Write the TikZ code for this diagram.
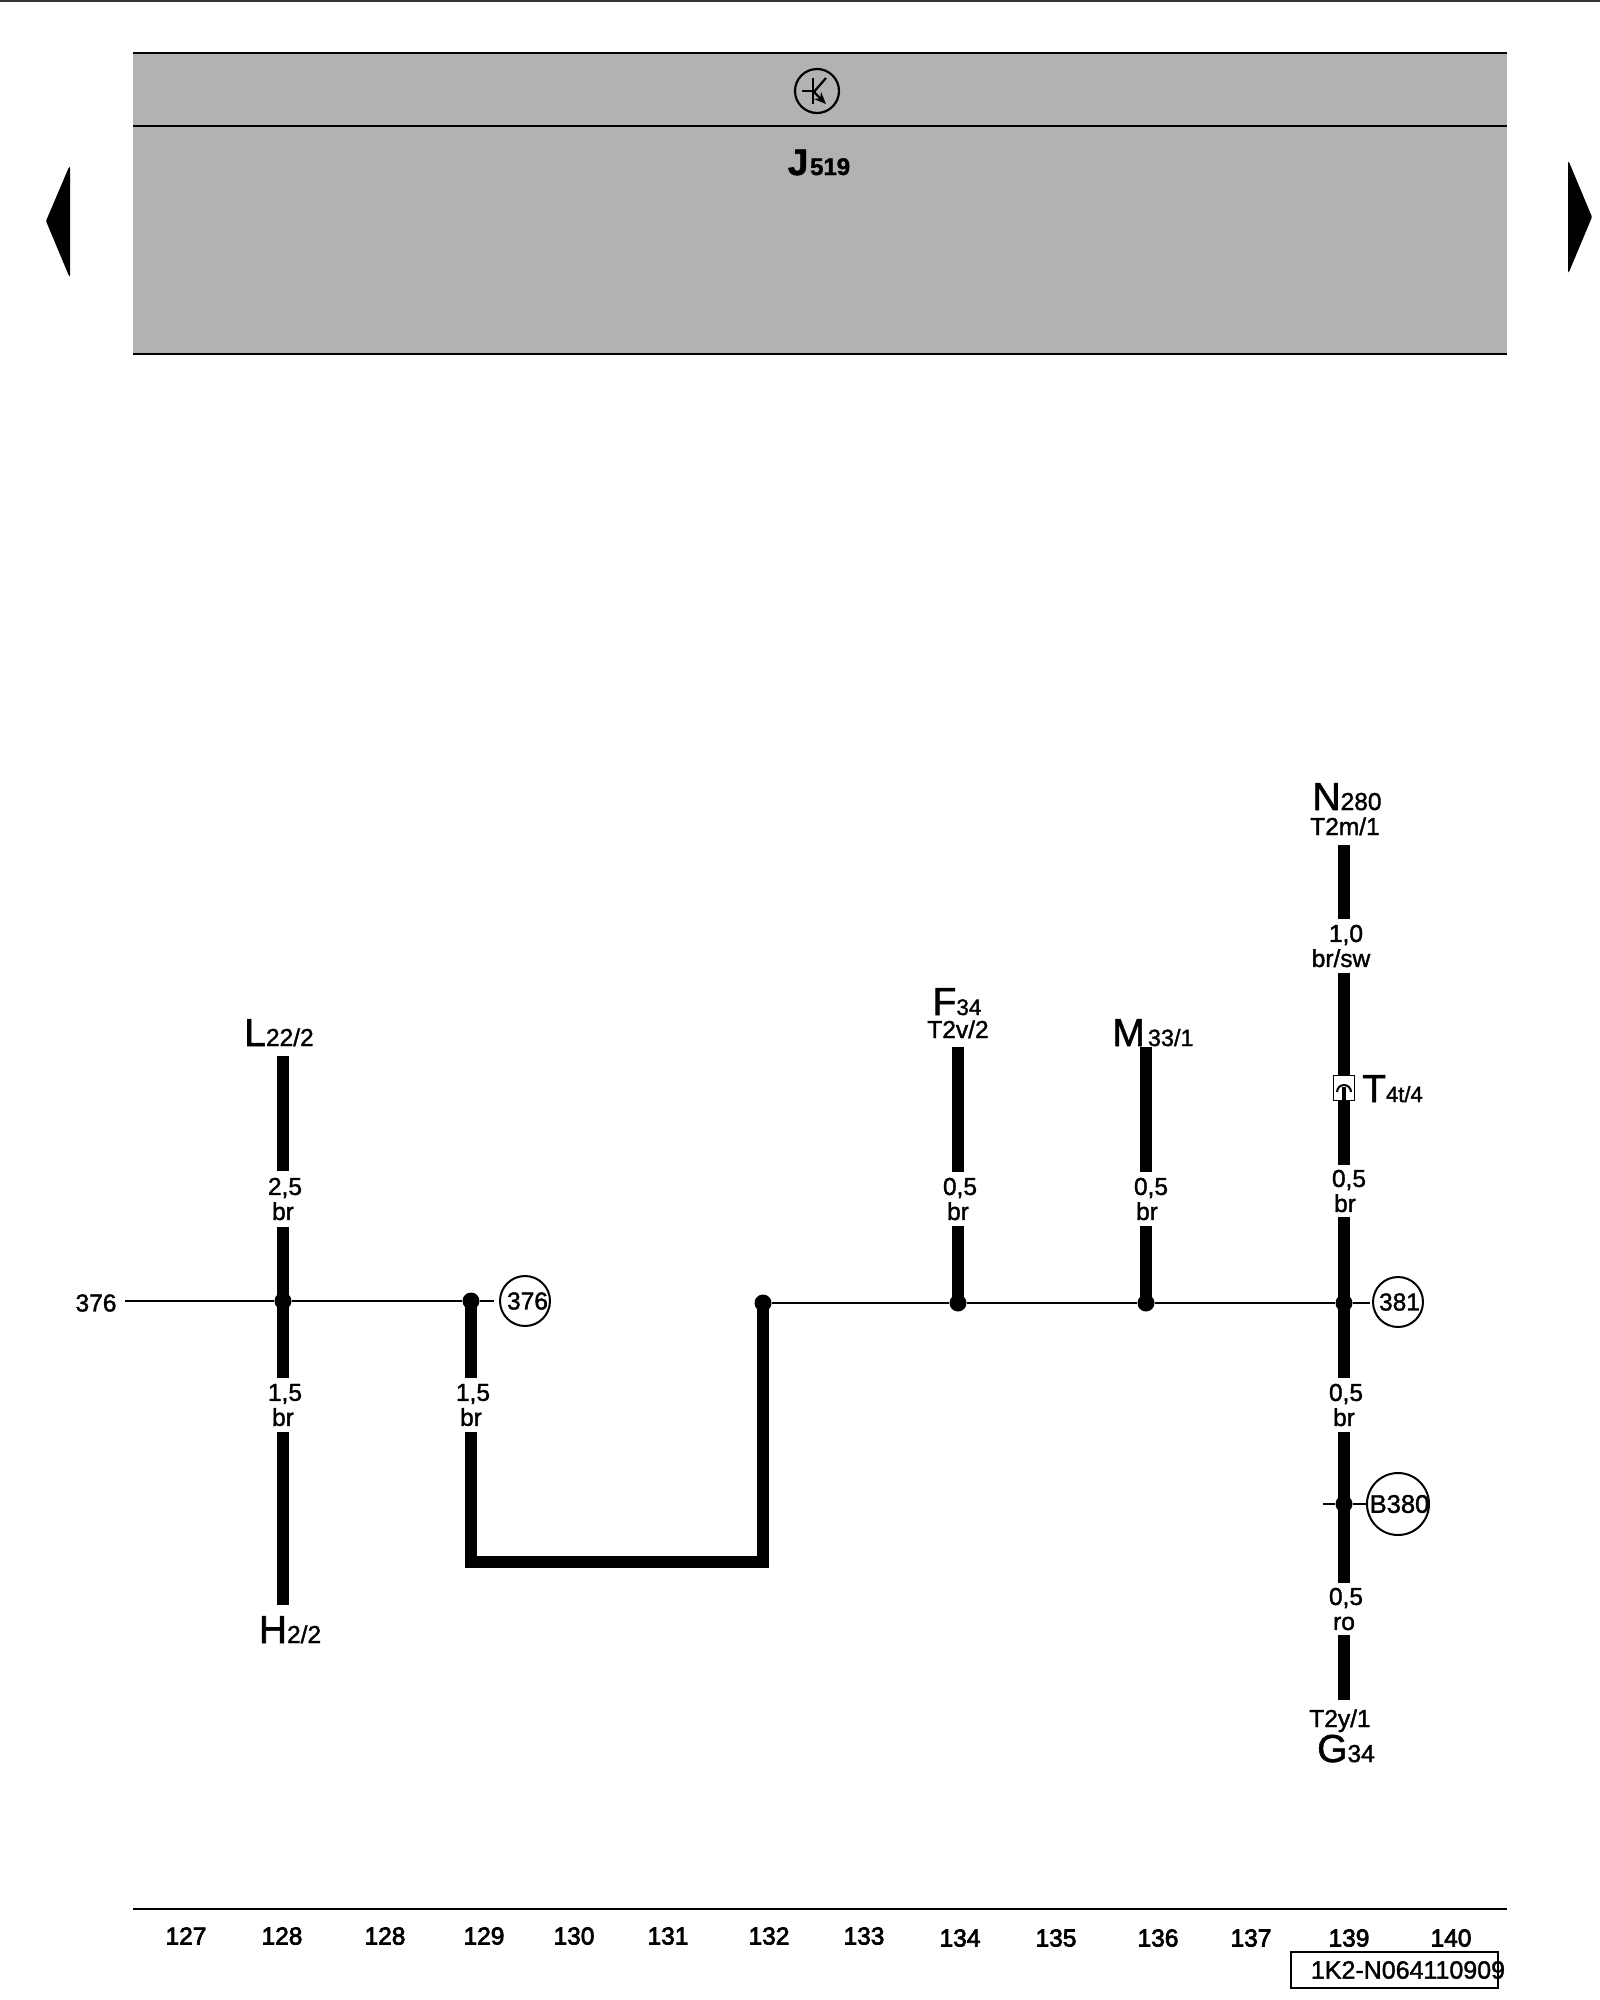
\documentclass[tikz,border=0pt]{standalone}
\usepackage{fontspec}
\usetikzlibrary{arrows.meta}
\setmainfont{Liberation Sans}[FakeBold=1.5]
\newfontfamily\tickface{Liberation Sans}[FakeBold=3]
\def\lblfont{\fontsize{24.5}{25}\selectfont}
\def\pinfont{\fontsize{39}{39}\selectfont}
\newcommand{\pinname}[2]{{\pinfont #1}{\lblfont #2}}
\tikzset{
  wire/.style={line width=12.5pt},
  thinwire/.style={line width=2.4pt},
  joint/.style={circle, fill=black, inner sep=0pt, minimum size=17pt},
  gauge/.style={inner sep=0pt, minimum width=64pt, align=center, font=\lblfont},
  refcircle/.style={circle, draw, line width=2pt, inner sep=0pt, font=\lblfont},
  pin/.style={anchor=base, inner sep=0pt, font=\lblfont}
}
\begin{document}
\begin{tikzpicture}[x=1pt, y=-1pt, >=stealth, line cap=butt]
\useasboundingbox (0,0) rectangle (1600,2000);
\draw [line width=1.5pt, black!80] (0,1) -- (1600,1);

% control unit
\fill [black!30] (133,53) rectangle (1507,354);
\draw [line width=2.4pt] (133,53) -- (1507,53);
\draw [line width=2.4pt] (133,126) -- (1507,126);
\draw [line width=2.4pt] (133,354) -- (1507,354);
\node [circle, draw, line width=2.2pt, minimum size=44pt, inner sep=0pt] (trans) at (817,91) {};
\draw [line width=2.2pt] (813,78) -- (813,104);
\draw [line width=2.2pt] (802,91) -- (813,91);
\draw [line width=2.2pt] (813,93) -- (826,78);
\draw [line width=2.2pt, -{Stealth[length=12pt,width=10pt]}] (813,91) -- (826,104);
\node [pin, font=\bfseries] (J519) at (819,175) {{\fontsize{37}{37}\selectfont J}\,{\fontsize{24}{24}\selectfont 519}};

% page arrows
\fill [black, rounded corners=1pt] (46,221) -- (69,167) -- (70,167) -- (70,276) -- (69,276) -- cycle;
\fill [black, rounded corners=1pt] (1592,217) -- (1569,162) -- (1568,162) -- (1568,272) -- (1569,272) -- cycle;

% junctions
\node [joint] (j128) at (283,1301) {};
\node [joint] (j129) at (471,1301) {};
\node [joint] (j132) at (763,1303) {};
\node [joint] (j134) at (958,1303) {};
\node [joint] (j136) at (1146,1303) {};
\node [joint] (j139) at (1344,1303) {};
\node [joint] (j380) at (1344,1504) {};

% wire labels
\node [gauge, minimum height=55pt] (g128a) at (283,1199) {\hspace*{4pt}2,5\\br};
\node [gauge, minimum height=54pt] (g128b) at (283,1405) {\hspace*{4pt}1,5\\br};
\node [gauge, minimum height=54pt] (g129) at (471,1405) {\hspace*{4pt}1,5\\br};
\node [gauge, minimum height=53pt] (g134) at (958,1199) {\hspace*{4pt}0,5\\br};
\node [gauge, minimum height=53pt] (g136) at (1146,1199) {\hspace*{10pt}0,5\\\hspace*{2pt}br};
\node [gauge, minimum height=53pt] (g139a) at (1344,946) {\hspace*{4pt}1,0\\br/sw\hspace*{6pt}};
\node [gauge, minimum height=52pt] (g139b) at (1344,1191) {\hspace*{10pt}0,5\\\hspace*{2pt}br};
\node [gauge, minimum height=53pt] (g139c) at (1344,1405) {\hspace*{4pt}0,5\\br};
\node [gauge, minimum height=52pt] (g139d) at (1344,1609) {\hspace*{4pt}0,5\\ro};

% wire ends
\coordinate (L22) at (283,1056);
\coordinate (H2) at (283,1605);
\coordinate (F34) at (958,1047);
\coordinate (M33) at (1146,1047);
\coordinate (N280) at (1344,845);
\coordinate (G34) at (1344,1700);
\coordinate (railA) at (471,1562);
\coordinate (railB) at (763,1562);
\coordinate (stubL) at (125,1301);
\coordinate (stubA) at (494,1301);
\coordinate (stubB) at (1370,1303);
\coordinate (stubC) at (1323,1504);

\draw [wire] (L22) -- (g128a);
\draw [wire] (g128a) -- (j128.center) -- (g128b);
\draw [wire] (g128b) -- (H2);
\draw [wire] (j129.center) -- (g129);
\draw [wire, line join=miter] (g129) -- (railA) -- (railB) -- (j132.center);
\draw [wire] (F34) -- (g134);
\draw [wire] (g134) -- (j134.center);
\draw [wire] (M33) -- (g136);
\draw [wire] (g136) -- (j136.center);
\draw [wire] (N280) -- (g139a);
\draw [wire] (g139a) -- (g139b);
\draw [wire] (g139b) -- (j139.center) -- (g139c);
\draw [wire] (g139c) -- (j380.center) -- (g139d);
\draw [wire] (g139d) -- (G34);

% reference circles
\node [refcircle, minimum size=50pt] (ref376) at (525,1301) {\makebox[0pt]{\hspace*{5pt}376}};
\node [refcircle, minimum size=50pt] (ref381) at (1398,1302) {\makebox[0pt]{\hspace*{3pt}381}};
\node [refcircle, minimum size=62pt] (ref380) at (1398,1504) {\makebox[0pt]{\hspace*{3pt}\fontsize{25.5}{26}\selectfont B380}};
\node [pin, anchor=center] (lab376) at (96,1303) {376};

\draw [thinwire] (stubL) -- (j128) -- (j129) -- (stubA);
\draw [thinwire] (j132) -- (j134) -- (j136) -- (j139) -- (stubB);
\draw [thinwire] (stubC) -- (j380) -- (ref380);

% plug on the 139 wire
\node [draw, fill=white, line width=1.6pt, minimum width=21pt, minimum height=25pt, inner sep=0pt] (T4t) at (1344,1088) {};
\draw [line width=2pt] (1337,1092) arc (180:360:7);
\draw [line width=3.5pt] (1344,1087) -- (1344,1100);

% pin names
\node [pin] (nN) at (1347,810) {\pinname{N}{280}};
\node [pin] (nNp) at (1345,835) {T2m/1};
\node [pin] (nL) at (279,1046) {\pinname{L}{22/2}};
\node [pin] (nF) at (957,1015) {{\pinfont F}{\fontsize{22.5}{22}\selectfont 34}};
\node [pin] (nFp) at (958,1038) {T2v/2};
\node [pin] (nM) at (1153,1046) {{\pinfont M}\hspace{3pt}{\fontsize{23.5}{24}\selectfont 33/1}};
\node [pin, anchor=base west] (nT) at (1362,1102) {{\pinfont T}{\fontsize{22}{22}\selectfont 4t/4}};
\node [pin] (nH) at (290,1643) {\pinname{H}{2/2}};
\node [pin] (nGp) at (1340,1727) {T2y/1};
\node [pin] (nG) at (1346,1762) {\pinname{G}{34}};

% page rail
\draw [line width=2.4pt] (133,1909) -- (1507,1909);
\foreach \x/\ypos/\n [count=\k] in {186/1936/127,282/1936/128,385/1936/128,484/1936/129,574/1936/130,668/1936/131,769/1936/132,
                              864/1936/133,960/1938/134,1056/1938/135,1158/1938/136,1251/1938/137,1349/1938/139,1451/1938/140}
    \node [font=\tickface\lblfont] (col\k) at (\x,\ypos) {\n};
\node [draw, line width=2pt, minimum width=207pt, minimum height=36pt, inner sep=0pt] (code) at (1394.5,1970) {};
\node [font=\fontsize{25}{25}\selectfont] (codetxt) at (1408,1970) {1K2-N064110909};
\end{tikzpicture}
\end{document}
